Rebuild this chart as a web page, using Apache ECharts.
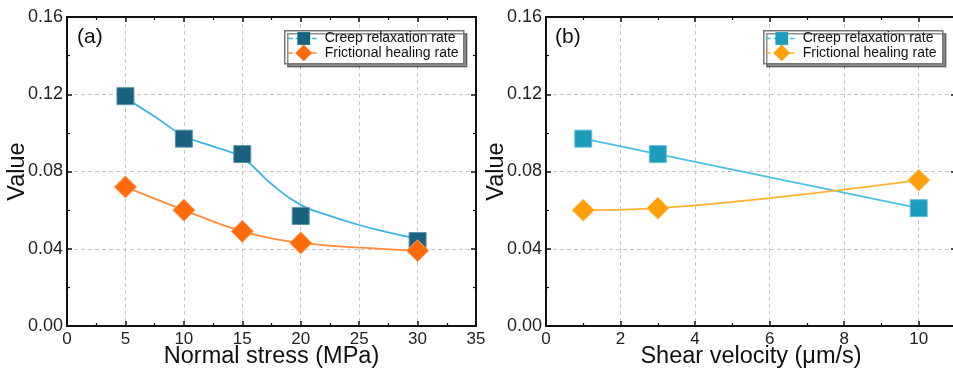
<!DOCTYPE html>
<html><head><meta charset="utf-8">
<script src="https://cdn.jsdelivr.net/npm/echarts@6/dist/echarts.min.js"></script>
<style>html,body{margin:0;padding:0;background:#fff}#c{width:953px;height:371px}</style>
</head><body><div id="c"></div>
<script>
// Panel (a): normal stress
const stressX = [5, 10, 15, 20, 30];
const creepA = [0.119, 0.097, 0.089, 0.057, 0.044];
const healA = [0.072, 0.060, 0.049, 0.043, 0.039];
// fitted curve for creep (a)
const creepFitAX = [5, 7.5, 10, 12.5, 15, 17.5, 20, 22.5, 25, 27.5, 30];
const creepFitAY = [0.118, 0.1085, 0.0985, 0.093, 0.087, 0.0735, 0.0627, 0.057, 0.0523, 0.0485, 0.0452];
// Panel (b): shear velocity
const velX = [1, 3, 10];
const creepB = [0.097, 0.089, 0.061];
const healB = [0.060, 0.061, 0.0755];
const seriesLabels = {cA: 'Creep relaxation rate', hA: 'Frictional healing rate', cB: 'Creep relaxation rate', hB: 'Frictional healing rate'};

const pairs = (xs, ys) => xs.map((x, i) => [x, ys[i]]);
const FONT = 'Liberation Sans, Arial, sans-serif';
const chart = echarts.init(document.getElementById('c'));

function xAxisBottom(grid, max, interval, name, labelMax) {
  return {gridIndex: grid, type: 'value', min: 0, max: max, interval: interval, position: 'bottom',
    axisLine: {show: true, onZero: false, lineStyle: {color: '#111', width: 2}},
    axisTick: {show: true, inside: true, length: 5, lineStyle: {color: '#111', width: 1.5}},
    minorTick: {show: true, splitNumber: 2, length: 3, lineStyle: {color: '#111', width: 1.2}},
    axisLabel: {color: '#222', fontSize: 17, fontFamily: FONT, margin: 5,
      formatter: v => (v > labelMax ? '' : String(v))},
    splitLine: {show: true, lineStyle: {color: '#c8c8c8', type: [4, 3], width: 1}},
    name: name, nameLocation: 'middle', nameGap: 31, nameMoveOverlap: false,
    nameTextStyle: {color: '#111', fontSize: 23.5, fontFamily: FONT, verticalAlign: 'middle'}};
}
function xAxisTop(grid, max, interval) {
  return {gridIndex: grid, type: 'value', min: 0, max: max, interval: interval, position: 'top',
    axisLine: {show: true, onZero: false, lineStyle: {color: '#111', width: 2}},
    axisTick: {show: true, inside: true, length: 5, lineStyle: {color: '#111', width: 1.5}},
    minorTick: {show: true, splitNumber: 2, length: 3, lineStyle: {color: '#111', width: 1.2}},
    axisLabel: {show: false}, splitLine: {show: false}};
}
function yAxisLeft(grid) {
  return {gridIndex: grid, type: 'value', min: 0, max: 0.16, interval: 0.04, position: 'left',
    axisLine: {show: true, onZero: false, lineStyle: {color: '#111', width: 2}},
    axisTick: {show: true, inside: true, length: 5, lineStyle: {color: '#111', width: 1.5}},
    minorTick: {show: true, splitNumber: 2, length: 3, lineStyle: {color: '#111', width: 1.2}},
    axisLabel: {color: '#222', fontSize: 18, fontFamily: FONT, margin: 4, formatter: v => v.toFixed(2)},
    splitLine: {show: true, lineStyle: {color: '#c8c8c8', type: [4, 3], width: 1}},
    name: 'Value', nameLocation: 'middle', nameGap: 37, nameRotate: 90, nameMoveOverlap: false,
    nameTextStyle: {color: '#111', fontSize: 23.5, fontFamily: FONT}};
}
function yAxisRight(grid) {
  return {gridIndex: grid, type: 'value', min: 0, max: 0.16, interval: 0.04, position: 'right',
    axisLine: {show: true, onZero: false, lineStyle: {color: '#111', width: 2}},
    axisTick: {show: true, inside: true, length: 5, lineStyle: {color: '#111', width: 1.5}},
    minorTick: {show: true, splitNumber: 2, length: 3, lineStyle: {color: '#111', width: 1.2}},
    axisLabel: {show: false}, splitLine: {show: false}};
}
// one legend per entry so each can have its own symbol size
function legendItem(left, centerY, name, style, h) {
  return {orient: 'vertical', left: left, top: centerY - h / 2, padding: 0, itemGap: 0,
    itemWidth: 32, itemHeight: h, backgroundColor: 'transparent', borderWidth: 0,
    textStyle: {color: '#111', fontSize: 14, fontFamily: FONT},
    formatter: n => seriesLabels[n],
    data: [{name: name,
      itemStyle: {color: style.fill, borderWidth: 0},
      lineStyle: {color: style.line, width: 1.5, type: [5, 3], opacity: 1}}]};
}
function legendFrame(left) {
  return {type: 'rect', left: left, top: 30, z: 3,
    shape: {width: 179, height: 33},
    style: {fill: '#fff', stroke: '#777', lineWidth: 1.5,
      shadowColor: 'rgba(0,0,0,0.45)', shadowBlur: 0, shadowOffsetX: 3, shadowOffsetY: 3}};
}

const cA = {fill: '#18627f', edge: '#5a93ab', line: '#3bb5e0'};
const hA = {fill: '#ff6a0a', edge: '#ff9a55', line: '#ff8c3c'};
const cB = {fill: '#1e9cbb', edge: '#5fc0d8', line: '#4cc1e3'};
const hB = {fill: '#ffa00a', edge: '#ffc25a', line: '#ffb230'};

chart.setOption({
  animation: false,
  backgroundColor: '#fff',
  grid: [
    {left: 67, top: 17, width: 409, height: 309, outerBoundsMode: 'none', containLabel: false},
    {left: 546, top: 17, width: 410, height: 309, outerBoundsMode: 'none', containLabel: false}
  ],
  xAxis: [xAxisBottom(0, 35, 5, 'Normal stress (MPa)', 35), xAxisTop(0, 35, 5),
          xAxisBottom(1, 11, 2, 'Shear velocity (μm/s)', 10), xAxisTop(1, 11, 2)],
  yAxis: [yAxisLeft(0), yAxisRight(0), yAxisLeft(1), yAxisRight(1)],
  legend: [
    legendItem(287, 39.5, 'cA', cA, 16), legendItem(287, 55, 'hA', hA, 21),
    legendItem(765, 39.5, 'cB', cB, 16), legendItem(765, 55, 'hB', hB, 21)
  ],
  graphic: [
    legendFrame(284), legendFrame(763),
    {type: 'text', left: 77, top: 27, style: {text: '(a)', fontSize: 21, fontFamily: FONT, fill: '#111'}},
    {type: 'text', left: 555, top: 27, style: {text: '(b)', fontSize: 21, fontFamily: FONT, fill: '#111'}}
  ],
  series: [
    {name: 'cA_fit', type: 'line', xAxisIndex: 0, yAxisIndex: 0, data: pairs(creepFitAX, creepFitAY),
      smooth: 0.5, showSymbol: false, symbol: 'none', lineStyle: {color: cA.line, width: 1.8}, z: 2, silent: true},
    {name: 'cA', type: 'line', xAxisIndex: 0, yAxisIndex: 0, data: pairs(stressX, creepA),
      symbol: 'rect', symbolSize: 17, lineStyle: {width: 0, opacity: 0},
      itemStyle: {color: cA.fill, borderColor: cA.edge, borderWidth: 1}, z: 3},
    {name: 'hA', type: 'line', xAxisIndex: 0, yAxisIndex: 0, data: pairs(stressX, healA),
      smooth: 0.35, symbol: 'diamond', symbolSize: [22, 22], lineStyle: {color: hA.line, width: 1.8},
      itemStyle: {color: hA.fill, borderColor: hA.edge, borderWidth: 1}, z: 4},
    {name: 'cB', type: 'line', xAxisIndex: 2, yAxisIndex: 2, data: pairs(velX, creepB),
      smooth: 0.2, symbol: 'rect', symbolSize: 17, lineStyle: {color: cB.line, width: 1.8},
      itemStyle: {color: cB.fill, borderColor: cB.edge, borderWidth: 1}, z: 3},
    {name: 'hB', type: 'line', xAxisIndex: 2, yAxisIndex: 2, data: pairs(velX, healB),
      smooth: 0.4, symbol: 'diamond', symbolSize: [22, 22], lineStyle: {color: hB.line, width: 1.8},
      itemStyle: {color: hB.fill, borderColor: hB.edge, borderWidth: 1}, z: 4}
  ]
});
</script></body></html>
